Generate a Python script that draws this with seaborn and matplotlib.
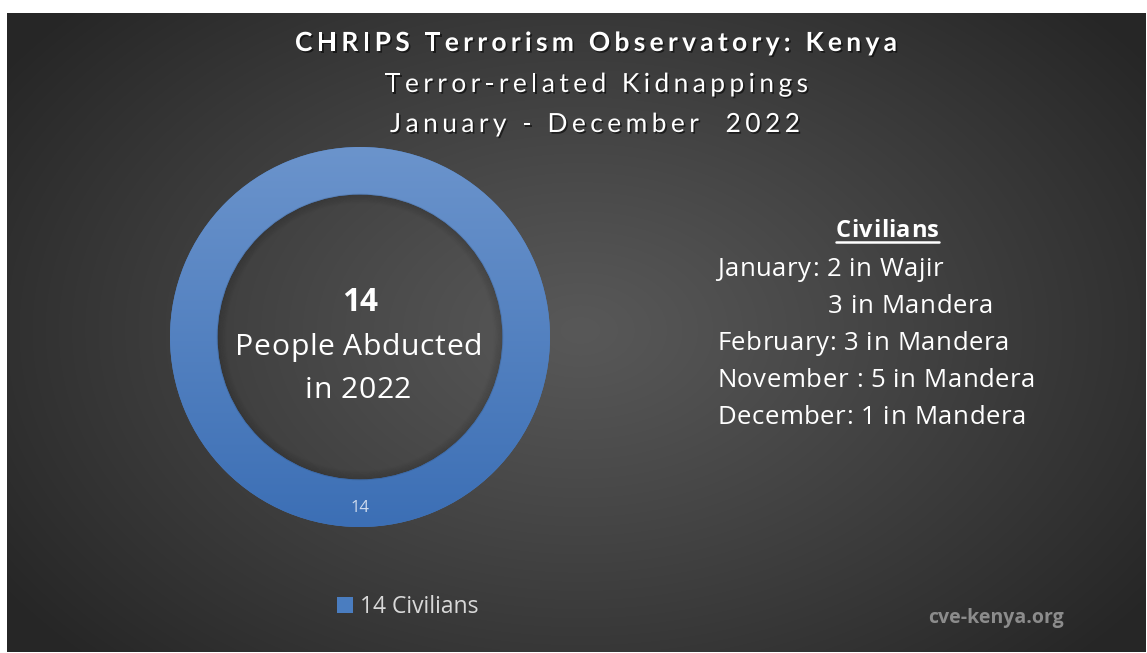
import numpy as np
import matplotlib
matplotlib.use("Agg")
import matplotlib.pyplot as plt
import matplotlib.patheffects as pe
from matplotlib.font_manager import FontProperties, findfont, get_font
import seaborn as sns

# ---------------- data ----------------
categories = ["Civilians"]
values = [14]
title_lines = ["CHRIPS Terrorism Observatory: Kenya",
               "Terror-related Kidnappings",
               "January - December  2022"]
detail_months = ["January: ", "", "February: ", "November : ", "December: "]
detail_counts = [2, 3, 3, 5, 1]
detail_places = ["Wajir", "Mandera", "Mandera", "Mandera", "Mandera"]
center_lines = ["14", "People Abducted", "in 2022"]
watermark = "cve-kenya.org"

sns.set_theme(style="dark")
plt.rcParams["font.family"] = ["Open Sans", "DejaVu Sans"]

W, H = 1147, 653
DPI = 100
fig = plt.figure(figsize=(W / DPI, H / DPI), dpi=DPI, facecolor="white")


def px(x0, y0, x1, y1):
    return [x0 / W, 1 - y1 / H, (x1 - x0) / W, (y1 - y0) / H]


def advances(s, size, weight, family):
    prop = FontProperties(family=family, weight=weight)
    font = get_font(findfont(prop))
    font.set_size(size, DPI)
    return [font.load_char(ord(c)).linearHoriAdvance / 65536 for c in s]


def fit_size(s, width, track, weight="normal", family="Open Sans", s0=20.0):
    """Font size whose advance width (with given tracking) equals width."""
    base = sum(advances(s, s0, weight, family))
    return (width - track * (len(s) - 1)) * s0 / base


def tracked_text(s, x, y, size, weight="normal", color="white", ha="left",
                 width=None, track=0.0, effects=None, family="Open Sans"):
    """Draw text with letter spacing; x,y in pixels (y = baseline from top)."""
    adv = advances(s, size, weight, family)
    n = len(s)
    if width is not None and n > 1:
        track = (width - sum(adv)) / (n - 1)
    total = sum(adv) + track * (n - 1)
    x0 = x - total / 2 if ha == "center" else x
    cur = x0
    for c, a in zip(s, adv):
        if c != " ":
            fig.text(cur / W, 1 - y / H, c, ha="left", va="baseline",
                     color=color, fontsize=size, fontweight=weight,
                     family=[family, "DejaVu Sans"], path_effects=effects)
        cur += a + track
    return x0, x0 + total, track


# ---------------- background ----------------
bg = fig.add_axes(px(7, 13, 1146, 652))
bg.set_axis_off()
yy, xx = np.mgrid[13:652, 7:1146]
r = np.sqrt(((xx - 580) / 700.0) ** 2 + ((yy - 330) / 470.0) ** 2)
r = np.clip(r, 0, 1)
val = 0.345 - (0.345 - 0.15) * r ** 1.1
img = np.dstack([val, val, val])
bg.imshow(img, extent=[0, 1, 0, 1], aspect="auto", origin="upper", zorder=0)
bg.set_xlim(0, 1)
bg.set_ylim(0, 1)

# ---------------- donut ----------------
cx, cy, R = 360, 337, 190
ax = fig.add_axes(px(cx - R, cy - R, cx + R, cy + R))
ax.set_axis_off()
total = sum(values)
blue = sns.color_palette(["#4a7dc0"])[0]
wedges, _, autotexts = ax.pie(
    values, radius=1, startangle=90, counterclock=False, colors=[blue],
    wedgeprops=dict(width=0.25, edgecolor="none"),
    autopct=lambda p: f"{p * total / 100:.0f}", pctdistance=0.9,
    textprops=dict(color="#cfdbee", fontsize=12))
ax.set_xlim(-1, 1)
ax.set_ylim(-1, 1)
g = np.linspace(0, 1, 256)[:, None]
top = np.array([0.42, 0.58, 0.80])
bot = np.array([0.235, 0.435, 0.71])
grad = top[None, None, :] * (1 - g[..., None]) + bot[None, None, :] * g[..., None]
grad = np.repeat(grad, 2, axis=1)
for w in wedges:
    im = ax.imshow(grad, extent=[-1, 1, -1, 1], origin="upper", aspect="auto", zorder=1.5)
    im.set_clip_path(w)
for t in autotexts:
    t.set_zorder(3)
for k in range(8):
    circ = plt.Circle((0, 0.0), 0.75 - k * 0.006, fill=False, lw=1.2,
                      color="black", alpha=0.10 * (1 - k / 8), zorder=2)
    ax.add_patch(circ)

# ---------------- details (right) ----------------
lines = [f"{m}{c} in {p}" for m, c, p in zip(detail_months, detail_counts, detail_places)]
adv_ref = advances(lines[2], 18.5, "normal", "Open Sans")
trk = (292 - sum(adv_ref)) / (len(lines[2]) - 1)

# center text
s_big = fit_size(center_lines[1], 247, trk)
s_num = fit_size(center_lines[0], 36, 0, weight="bold")
tracked_text(center_lines[0], 360, 311, s_num, weight="bold", ha="center")
tracked_text(center_lines[1], 358.5, 355, s_big, ha="center", track=trk)
tracked_text(center_lines[2], 358, 398, s_big, ha="center", track=trk)

# ---------------- titles ----------------
shadow = [pe.withSimplePatchShadow(offset=(1.2, -1.2), shadow_rgbFace="black", alpha=0.55)]
tracked_text(title_lines[0], 596, 51, 19, weight="bold", ha="center", width=602,
             effects=shadow, family="Lato")
tracked_text(title_lines[1], 596.5, 92, 19, ha="center", width=423,
             effects=shadow, family="Lato")
tracked_text(title_lines[2], 595, 132, 19, ha="center", width=410,
             effects=shadow, family="Lato")

x0, x1, _ = tracked_text("Civilians", 887.5, 237, 17, weight="bold", ha="center", width=103)
fig.add_artist(plt.Line2D([x0 / W, x1 / W], [1 - 242 / H, 1 - 242 / H],
                          color="white", lw=1.8))
ys = [276, 313, 350, 387, 424]
for s, y, m in zip(lines, ys, detail_months):
    x = 717 if m else 828
    tracked_text(s, x, y, 18.5, track=trk)

# ---------------- legend ----------------
fig.legend(wedges, [f"{v} {c}" for v, c in zip(values, categories)],
           loc="center left", bbox_to_anchor=(316 / W, 1 - 607 / H),
           frameon=False, handlelength=0.7, handleheight=0.7,
           handletextpad=0.3, fontsize=16.5, labelcolor="#d9d9d9")

fig.text(996 / W, 1 - 618 / H, watermark, ha="center", va="center",
         color="#8c8c8c", fontsize=14, fontweight="bold")

fig.savefig("out.png", dpi=DPI, facecolor="white")
